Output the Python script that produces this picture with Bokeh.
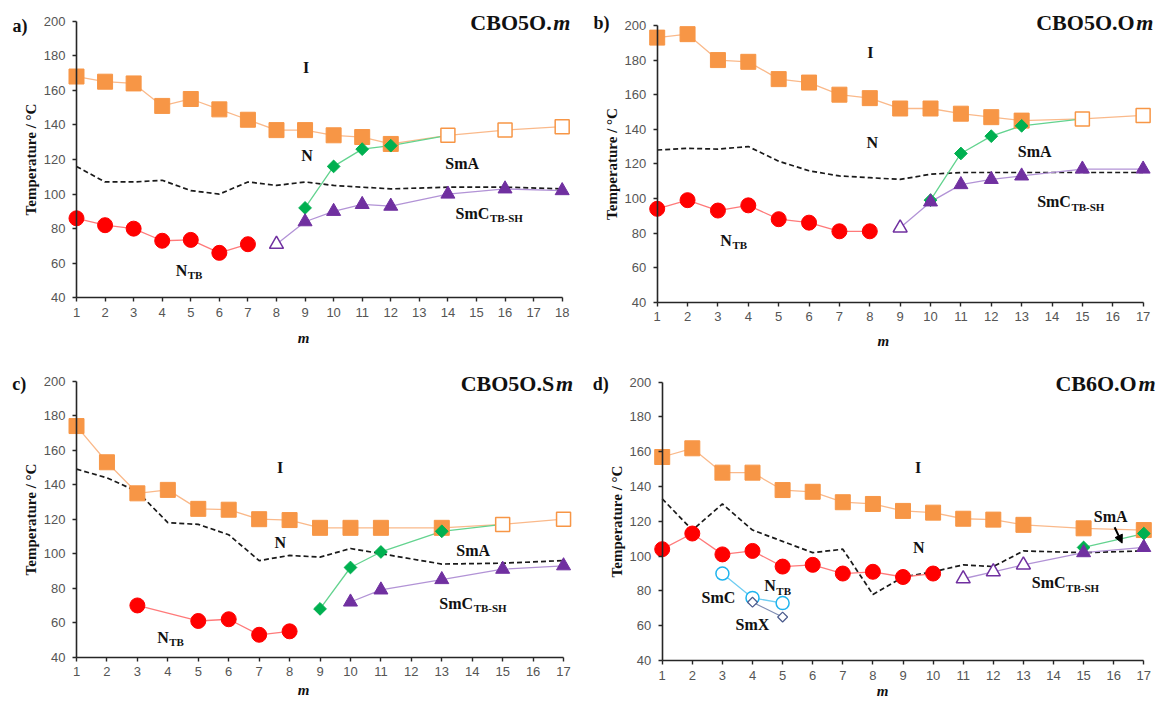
from bokeh.plotting import figure
from bokeh.models import Range1d, FixedTicker, Label, Arrow, NormalHead
from bokeh.layouts import column, row
from bokeh.embed import file_html
from bokeh.resources import INLINE

# ---------------- data ----------------
T_ticks = [40, 60, 80, 100, 120, 140, 160, 180, 200]

# a) CBO5O.m
a_ticks = list(range(1, 19))
a_iso_m = [1, 2, 3, 4, 5, 6, 7, 8, 9, 10, 11, 12]
a_iso_T = [168, 165, 164, 151, 155, 149, 143, 137, 137, 134, 133, 129]
a_iso_open_m = [14, 16, 18]
a_iso_open_T = [134, 137, 139]
a_smA_m = [9, 10, 11, 12]
a_smA_T = [92, 116, 126, 128]
a_smC_open_m = [8]
a_smC_open_T = [71]
a_smC_m = [9, 10, 11, 12, 14, 16, 18]
a_smC_T = [84, 90, 94, 93, 100, 103, 102]
a_ntb_m = [1, 2, 3, 4, 5, 6, 7]
a_ntb_T = [86, 82, 80, 73, 73.5, 66, 71]
a_dash_m = [1, 2, 3, 4, 5, 6, 7, 8, 9, 10, 11, 12, 14, 16, 18]
a_dash_T = [116, 107, 107, 108, 102, 100, 107, 105, 107, 105, 104, 103, 104, 104, 103]

# b) CBO5O.Om
b_ticks = list(range(1, 18))
b_iso_m = [1, 2, 3, 4, 5, 6, 7, 8, 9, 10, 11, 12, 13]
b_iso_T = [193, 195, 180, 179, 169, 167, 160, 158, 152, 152, 149, 147, 145]
b_iso_open_m = [15, 17]
b_iso_open_T = [146, 148]
b_smA_m = [10, 11, 12, 13]
b_smA_T = [99, 126, 136, 142]
b_smC_open_m = [9]
b_smC_open_T = [83]
b_smC_m = [10, 11, 12, 13, 15, 17]
b_smC_T = [98, 108, 111, 113, 117, 117]
b_ntb_m = [1, 2, 3, 4, 5, 6, 7, 8]
b_ntb_T = [94, 99, 93, 96, 88, 86, 81, 81]
b_dash_m = [1, 2, 3, 4, 5, 6, 7, 8, 9, 10, 11, 12, 13, 15, 17]
b_dash_T = [128, 129, 128.5, 130, 121.5, 116, 113, 112, 111, 114, 115, 115, 115, 115, 115]

# c) CBO5O.Sm
c_ticks = list(range(1, 18))
c_iso_m = [1, 2, 3, 4, 5, 6, 7, 8, 9, 10, 11, 13]
c_iso_T = [174, 153, 135, 137, 126, 125.5, 120, 119.5, 115, 115, 115, 115]
c_iso_open_m = [15, 17]
c_iso_open_T = [117, 120]
c_smA_m = [9, 10, 11, 13]
c_smA_T = [68, 92, 101, 113]
c_smC_m = [10, 11, 13, 15, 17]
c_smC_T = [72, 79, 85, 91, 93]
c_ntb_m = [3, 5, 6, 7, 8]
c_ntb_T = [70, 61, 62, 53, 55]
c_dash_m = [1, 2, 3, 4, 5, 6, 7, 8, 9, 10, 11, 13, 15, 17]
c_dash_T = [149, 144, 136, 118, 117, 111, 96, 99, 98, 103, 100, 94, 94.5, 96]

# d) CB6O.Om
d_ticks = list(range(1, 18))
d_iso_m = [1, 2, 3, 4, 5, 6, 7, 8, 9, 10, 11, 12, 13, 15, 17]
d_iso_T = [157, 162, 148, 148, 138, 137, 131, 130, 126, 125, 121.5, 121, 118, 116, 115]
d_smA_m = [15, 17]
d_smA_T = [105, 113]
d_smC_open_m = [11, 12, 13]
d_smC_open_T = [87, 91, 95]
d_smC_m = [15, 17]
d_smC_T = [102, 105]
d_ntb_m = [1, 2, 3, 4, 5, 6, 7, 8, 9, 10]
d_ntb_T = [104, 113, 101, 103, 94, 95, 90, 91, 88, 90]
d_smc_m = [3, 4, 5]
d_smc_T = [90, 76, 73]
d_smx_m = [4, 5]
d_smx_T = [73.5, 65]
d_dash_m = [1, 2, 3, 4, 5, 6, 7, 8, 9, 10, 11, 12, 13, 15, 17]
d_dash_T = [133, 115, 130, 115, 108.5, 102, 104, 78, 88, 91, 95, 94, 103, 102, 103]

# ---------------- styles ----------------
SERIF = "Liberation Serif"
SANS = "Liberation Sans"
TXT = "#111111"
ORANGE, ORANGE_L = "#F79646", "#FAB98A"
RED, RED_L = "#FF0000", "#FF7A7A"
GREEN, GREEN_L = "#00B050", "#63D38F"
PURPLE, PURPLE_L = "#7030A0", "#B293D6"
CYAN, CYAN_L = "#1FB4EE", "#6FCDF2"
SLATE, SLATE_L = "#4A5A8C", "#7F8DB3"
AXC = "#262626"

EM = {"S": .556, "m": .833, "C": .722, "N": .722, "A": .722, "T": .667,
      "B": .667, "-": .333, "H": .778, "X": .722, "O": .778, "5": .5, ".": .25, "6": .5}


def tw(s, size):
    return sum(EM.get(ch, .55) for ch in s) * size


def make_fig(w, h, xr, yr, xmax, ticks):
    p = figure(width=w, height=h, x_range=Range1d(*xr), y_range=Range1d(*yr),
               output_backend="svg", toolbar_location=None, min_border=0)
    p.xgrid.visible = False
    p.ygrid.visible = False
    p.outline_line_color = None
    p.background_fill_color = "white"
    p.border_fill_color = "white"
    p.xaxis.ticker = FixedTicker(ticks=ticks)
    p.yaxis.ticker = FixedTicker(ticks=T_ticks)
    p.xaxis.fixed_location = 40
    p.yaxis.fixed_location = 1
    p.xaxis.bounds = (1, xmax)
    p.yaxis.bounds = (40, 200)
    for ax in (p.xaxis[0], p.yaxis[0]):
        ax.axis_line_color = AXC
        ax.axis_line_width = 1.6
        ax.major_tick_line_color = AXC
        ax.major_tick_line_width = 1.4
        ax.major_tick_in = 0
        ax.major_tick_out = 4
        ax.minor_tick_line_color = None
        ax.major_label_text_font = SANS
        ax.major_label_text_font_size = "13px"
        ax.major_label_text_color = "#555555"
    p.xaxis.major_label_standoff = 6
    p.yaxis.major_label_standoff = 7
    p.yaxis.axis_label = "Temperature / \u00b0C"
    p.yaxis.axis_label_text_font = SERIF
    p.yaxis.axis_label_text_font_style = "bold"
    p.yaxis.axis_label_text_font_size = "15px"
    p.yaxis.axis_label_text_color = TXT
    p.yaxis.axis_label_standoff = 2
    return p


def lab(p, x, y, text, size=16, align="center", style="bold", xo=0, yo=0, baseline="middle"):
    p.add_layout(Label(x=x, y=y, text=text, text_font=SERIF, text_font_size=f"{size}px",
                       text_font_style=style, text_align=align, text_baseline=baseline,
                       x_offset=xo, y_offset=yo, text_color=TXT))


def sublab(p, x, y, main, sub, size=16, subsize=11):
    lab(p, x, y, main, size=size, align="left")
    lab(p, x, y, sub, size=subsize, align="left", xo=tw(main, size) + 0.5, yo=-5)


def title(p, x, y, upright, ital):
    lab(p, x, y, ital, size=22, align="right", style="bold italic")
    lab(p, x, y, upright, size=22, align="right", xo=-tw(ital, 22) - 0.5)


def dashed(p, m, T):
    p.line(m, T, line_color="#1a1a1a", line_width=1.7, line_dash="5 3")


def marks(p, m, T, mc, marker, size, hollow=False, angle=0.0, lw=1.5):
    if hollow:
        p.scatter(m, T, marker=marker, size=size, fill_color="white", line_color=mc,
                  line_width=lw, angle=angle)
    else:
        p.scatter(m, T, marker=marker, size=size, fill_color=mc, line_color=mc,
                  line_width=1, angle=angle)


DIA = 0.7853981633974483

# ---------------- panel a ----------------
pa = make_fig(578, 350, (-1.660, 18.571), (9.52, 211.97), 18, a_ticks)
dashed(pa, a_dash_m, a_dash_T)
pa.line(a_iso_m + a_iso_open_m, a_iso_T + a_iso_open_T, line_color=ORANGE_L, line_width=1.3)
pa.line(a_smA_m + a_iso_open_m[:1], a_smA_T + a_iso_open_T[:1], line_color=GREEN_L, line_width=1.3)
pa.line(a_smC_open_m + a_smC_m, a_smC_open_T + a_smC_T, line_color=PURPLE_L, line_width=1.3)
pa.line(a_ntb_m, a_ntb_T, line_color=RED_L, line_width=1.3)
marks(pa, a_iso_m, a_iso_T, ORANGE, "square", 15)
marks(pa, a_iso_open_m, a_iso_open_T, ORANGE, "square", 14, hollow=True)
marks(pa, a_smA_m, a_smA_T, GREEN, "square", 9, angle=DIA)
marks(pa, a_smC_m, a_smC_T, PURPLE, "triangle", 14)
marks(pa, a_smC_open_m, a_smC_open_T, PURPLE, "triangle", 14, hollow=True)
marks(pa, a_ntb_m, a_ntb_T, RED, "circle", 15)
lab(pa, 9.04, 173, "I")
lab(pa, 9.07, 122.3, "N")
lab(pa, 14.5, 117.5, "SmA")
sublab(pa, 14.27, 89, "SmC", "TB-SH")
sublab(pa, 4.47, 55.8, "N", "TB")
title(pa, 18.29, 199, "CBO5O.", "m")
lab(pa, -1.24, 197.5, "a)", size=18, align="left")
lab(pa, 8.95, 16.5, "m", size=15, style="bold italic")

# ---------------- panel b ----------------
pb = make_fig(584, 350, (-1.591, 17.638), (12.07, 214.46), 17, b_ticks)
dashed(pb, b_dash_m, b_dash_T)
pb.line(b_iso_m + b_iso_open_m, b_iso_T + b_iso_open_T, line_color=ORANGE_L, line_width=1.3)
pb.line(b_smA_m + b_iso_open_m[:1], b_smA_T + b_iso_open_T[:1], line_color=GREEN_L, line_width=1.3)
pb.line(b_smC_open_m + b_smC_m, b_smC_open_T + b_smC_T, line_color=PURPLE_L, line_width=1.3)
pb.line(b_ntb_m, b_ntb_T, line_color=RED_L, line_width=1.3)
marks(pb, b_iso_m, b_iso_T, ORANGE, "square", 15)
marks(pb, b_iso_open_m, b_iso_open_T, ORANGE, "square", 14, hollow=True)
marks(pb, b_smA_m, b_smA_T, GREEN, "square", 9, angle=DIA)
marks(pb, b_smC_m, b_smC_T, PURPLE, "triangle", 14)
marks(pb, b_smC_open_m, b_smC_open_T, PURPLE, "triangle", 14, hollow=True)
marks(pb, b_ntb_m, b_ntb_T, RED, "circle", 15)
lab(pb, 8.02, 184.6, "I")
lab(pb, 8.08, 132.5, "N")
lab(pb, 13.43, 127.3, "SmA")
sublab(pb, 13.51, 98.2, "SmC", "TB-SH")
sublab(pb, 3.08, 75.7, "N", "TB")
title(pb, 17.34, 201.5, "CBO5O.O", "m")
lab(pb, -1.10, 201.5, "b)", size=18, align="left")
lab(pb, 8.45, 17.8, "m", size=15, style="bold italic")

# ---------------- panel c ----------------
pc = make_fig(578, 353, (-1.497, 17.491), (13.16, 217.80), 17, c_ticks)
dashed(pc, c_dash_m, c_dash_T)
pc.line(c_iso_m + c_iso_open_m, c_iso_T + c_iso_open_T, line_color=ORANGE_L, line_width=1.3)
pc.line(c_smA_m + c_iso_open_m[:1], c_smA_T + c_iso_open_T[:1], line_color=GREEN_L, line_width=1.3)
pc.line(c_smC_m, c_smC_T, line_color=PURPLE_L, line_width=1.3)
pc.line(c_ntb_m, c_ntb_T, line_color=RED_L, line_width=1.3)
marks(pc, c_iso_m, c_iso_T, ORANGE, "square", 15)
marks(pc, c_iso_open_m, c_iso_open_T, ORANGE, "square", 14, hollow=True)
marks(pc, c_smA_m, c_smA_T, GREEN, "square", 9, angle=DIA)
marks(pc, c_smC_m, c_smC_T, PURPLE, "triangle", 14)
marks(pc, c_ntb_m, c_ntb_T, RED, "circle", 15)
lab(pc, 7.69, 149.8, "I")
lab(pc, 7.69, 106.7, "N")
lab(pc, 14.03, 101.9, "SmA")
sublab(pc, 12.92, 71.4, "SmC", "TB-SH")
sublab(pc, 3.65, 51.6, "N", "TB")
title(pc, 17.31, 198.5, "CBO5O.S", "m")
lab(pc, -1.11, 198.5, "c)", size=18, align="left")
lab(pc, 8.46, 20.7, "m", size=15, style="bold italic")

# ---------------- panel d ----------------
pd_ = make_fig(584, 353, (-1.781, 17.621), (15.28, 218.23), 17, d_ticks)
dashed(pd_, d_dash_m, d_dash_T)
pd_.line(d_iso_m, d_iso_T, line_color=ORANGE_L, line_width=1.3)
pd_.line(d_smA_m, d_smA_T, line_color=GREEN_L, line_width=1.3)
pd_.line(d_smC_open_m + d_smC_m, d_smC_open_T + d_smC_T, line_color=PURPLE_L, line_width=1.3)
pd_.line(d_ntb_m, d_ntb_T, line_color=RED_L, line_width=1.3)
pd_.line(d_smc_m, d_smc_T, line_color=CYAN_L, line_width=1.3)
pd_.line(d_smx_m, d_smx_T, line_color=SLATE_L, line_width=1.3)
marks(pd_, d_iso_m, d_iso_T, ORANGE, "square", 15)
marks(pd_, d_smA_m, d_smA_T, GREEN, "square", 9, angle=DIA)
marks(pd_, d_smC_m, d_smC_T, PURPLE, "triangle", 14)
marks(pd_, d_smC_open_m, d_smC_open_T, PURPLE, "triangle", 14, hollow=True)
marks(pd_, d_ntb_m, d_ntb_T, RED, "circle", 15)
marks(pd_, d_smc_m, d_smc_T, CYAN, "circle", 13, hollow=True)
marks(pd_, d_smx_m, d_smx_T, SLATE, "square", 7, hollow=True, angle=DIA, lw=1.2)
lab(pd_, 9.5, 151.2, "I")
lab(pd_, 9.52, 105.2, "N")
lab(pd_, 15.9, 123, "SmA")
pd_.add_layout(Arrow(x_start=16.03, y_start=116.6, x_end=16.28, y_end=107.5,
                     line_color="black", line_width=2,
                     end=NormalHead(size=8, fill_color="black", line_color="black")))
sublab(pd_, 13.28, 84.6, "SmC", "TB-SH")
sublab(pd_, 4.39, 83.1, "N", "TB")
lab(pd_, 2.87, 76.4, "SmC")
lab(pd_, 4.0, 60.7, "SmX")
title(pd_, 17.39, 199.1, "CB6O.O", "m")
lab(pd_, -1.31, 199, "d)", size=18, align="left")
lab(pd_, 8.32, 22.75, "m", size=15, style="bold italic")

layout = column(row(pa, pb), row(pc, pd_))
open("out.html", "w").write(file_html(layout, INLINE))
